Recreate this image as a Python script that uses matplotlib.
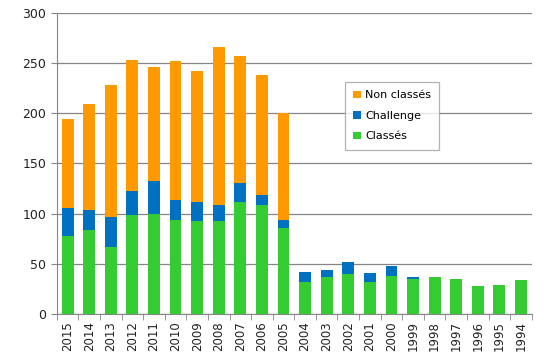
import numpy as np
import matplotlib
matplotlib.use("Agg")
import matplotlib.pyplot as plt
from matplotlib.ticker import FixedLocator

years = ['2015', '2014', '2013', '2012', '2011', '2010', '2009', '2008', '2007', '2006', '2005',
         '2004', '2003', '2002', '2001', '2000', '1999', '1998', '1997', '1996', '1995', '1994']
classes = [78, 84, 67, 99, 100, 94, 93, 93, 112, 109, 86,
           32, 37, 40, 32, 38, 35, 37, 35, 28, 29, 34]
challenge = [28, 20, 30, 23, 32, 20, 19, 16, 18, 10, 8,
             10, 7, 12, 9, 10, 2, 0, 0, 0, 0, 0]
non_classes = [88, 105, 131, 131, 114, 138, 130, 157, 127, 119, 106,
               0, 0, 0, 0, 0, 0, 0, 0, 0, 0, 0]

c_green = '#33CC33'
c_blue = '#0070C0'
c_orange = '#FF9900'
c_grid = '#868686'

fig = plt.figure(figsize=(5.46, 3.61), dpi=100)
ax = fig.add_axes([0.104, 0.130, 0.870, 0.835])

x = np.arange(len(years))
w = 0.55
b1 = ax.bar(x, classes, w, color=c_green, label='Classés', zorder=3)
b2 = ax.bar(x, challenge, w, bottom=classes, color=c_blue, label='Challenge', zorder=3)
bottom3 = np.array(classes) + np.array(challenge)
b3 = ax.bar(x, non_classes, w, bottom=bottom3, color=c_orange, label='Non classés', zorder=3)

ax.set_xlim(-0.5, len(years) - 0.5)
ax.set_ylim(0, 300)
ax.set_yticks(np.arange(0, 301, 50))
ax.yaxis.grid(True, color=c_grid, linewidth=0.9, zorder=0)

ax.set_xticks(x)
ax.set_xticklabels(years, rotation=90, fontsize=8.5, color='#222222')
ax.xaxis.set_minor_locator(FixedLocator(np.arange(-0.5, len(years), 1)))
ax.tick_params(axis='x', which='major', length=0, pad=5)
ax.tick_params(axis='x', which='minor', length=4, color=c_grid, direction='out')
ax.tick_params(axis='y', length=4, labelsize=9, colors=c_grid, labelcolor='#222222')

for s in ['top', 'right']:
    ax.spines[s].set_visible(False)
ax.spines['left'].set_color(c_grid)
ax.spines['bottom'].set_color(c_grid)

leg = ax.legend(handles=[b3, b2, b1], loc='upper left',
                bbox_to_anchor=(0.607, 0.770), fontsize=8, frameon=True,
                fancybox=False, edgecolor='#A0A0A0', handlelength=0.7,
                handleheight=0.7, handletextpad=0.35, labelspacing=0.95,
                borderpad=0.75, borderaxespad=0)
leg.get_frame().set_linewidth(0.9)
leg.set_zorder(5)

fig.savefig('out.png', dpi=100, facecolor='white')
